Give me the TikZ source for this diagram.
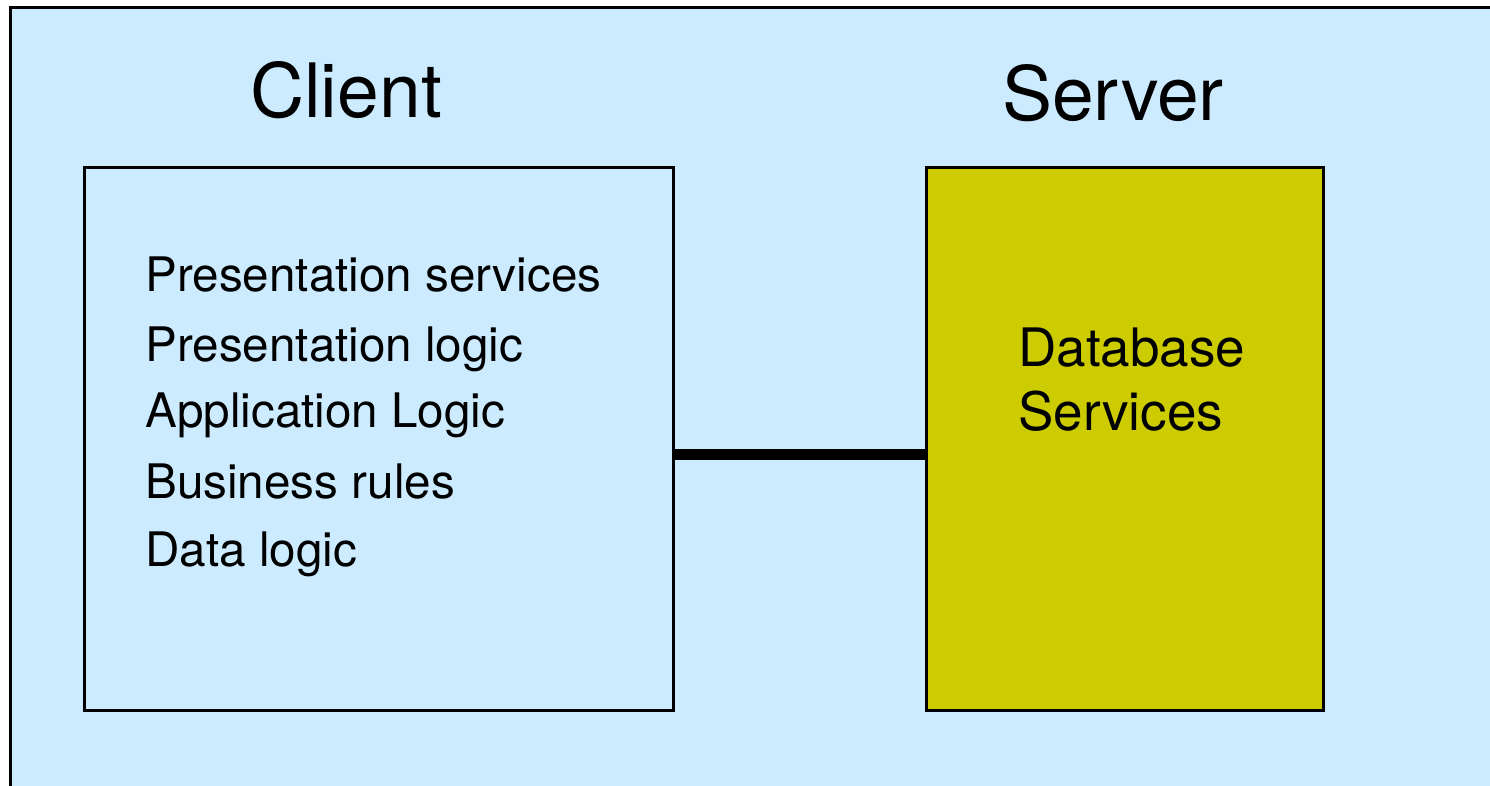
\documentclass[tikz,border=0pt]{standalone}
\usepackage{fontspec}
\setmainfont{TeX Gyre Heros}
\definecolor{bgblue}{HTML}{CCEBFF}
\definecolor{dbyellow}{HTML}{CCCC00}
\begin{document}
\begin{tikzpicture}[x=0.5pt,y=-0.5pt,
  panel/.style={draw=black,line width=1.5pt},
  item/.style={anchor=base west,inner sep=0pt,font=\fontsize{23.8pt}{28pt}\selectfont},
  dbtext/.style={anchor=base west,inner sep=0pt,font=\fontsize{26.5pt}{31.5pt}\selectfont},
  title/.style={anchor=base,inner sep=0pt,font=\fontsize{37.5pt}{45pt}\selectfont},
  link/.style={draw=black,line width=5.5pt}]
\useasboundingbox (0,0) rectangle (1490,786);
\fill[white] (0,0) rectangle (1490,786);
\draw[fill=bgblue,line width=1.5pt] (10,8) rectangle (1510,806);
\node[title] (ct) at (346,118) {Client};
\node[title] (st) at (1113,121) {Server};
\node[panel,fill=bgblue,minimum width=294.5pt,minimum height=271pt,inner sep=0pt] (client) at (378.5,439) {};
\node[panel,fill=dbyellow,minimum width=198.5pt,minimum height=271pt,inner sep=0pt] (server) at (1124.5,439) {};
\node[item] (i1) at (145,292) {Presentation services};
\node[item] (i2) at (145,362) {Presentation logic};
\node[item] (i3) at (145,428) {Application Logic};
\node[item] (i4) at (145,498) {Business rules};
\node[item] (i5) at (145,566) {Data logic};
\node[dbtext] (d1) at (1018,367) {Database};
\node[dbtext] (d2) at (1018,430) {Services};
\path[link] (client.east |- 0,455) coordinate (la) -- (server.west |- 0,455) coordinate (lb);
\end{tikzpicture}
\end{document}
